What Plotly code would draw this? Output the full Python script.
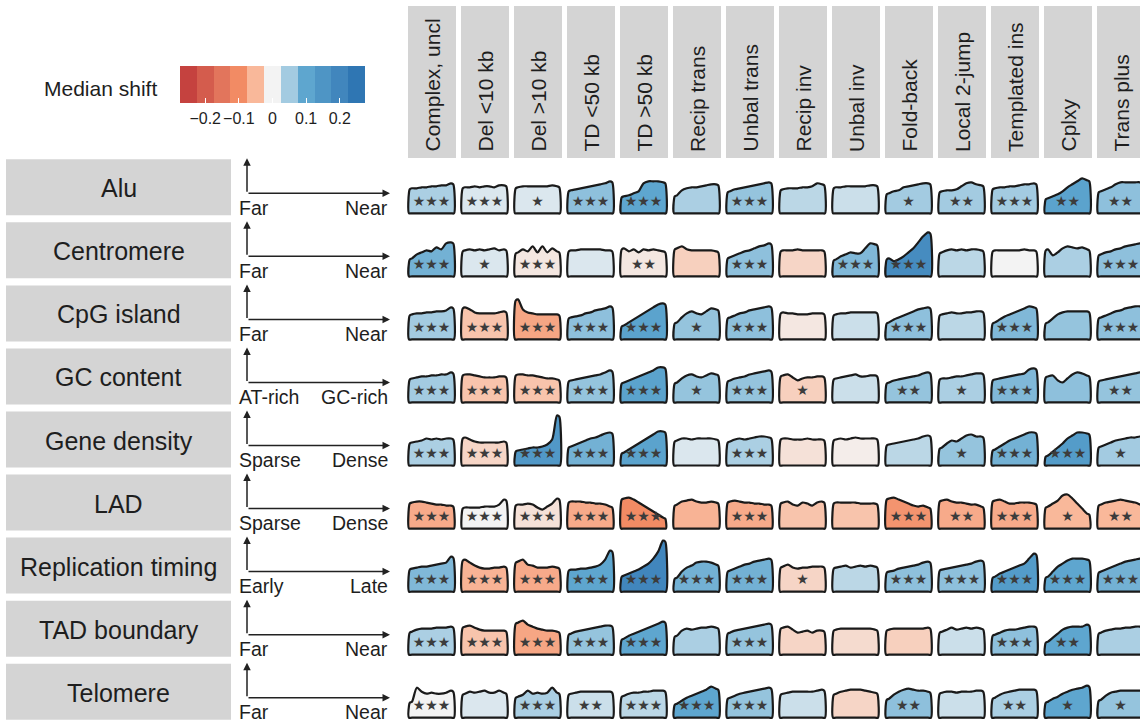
import plotly.graph_objects as go
from plotly.colors import sample_colorscale

# ---------------- data ----------------
features = ["Alu", "Centromere", "CpG island", "GC content", "Gene density",
            "LAD", "Replication timing", "TAD boundary", "Telomere"]
axis_low = ["Far", "Far", "Far", "AT-rich", "Sparse", "Sparse", "Early", "Far", "Far"]
axis_high = ["Near", "Near", "Near", "GC-rich", "Dense", "Dense", "Late", "Near", "Near"]
sv_types = ["Complex, uncl", "Del <10 kb", "Del >10 kb", "TD <50 kb", "TD >50 kb",
            "Recip trans", "Unbal trans", "Recip inv", "Unbal inv", "Fold-back",
            "Local 2-jump", "Templated ins", "Cplxy", "Trans plus"]

legend_values = [-0.25, -0.2, -0.15, -0.1, -0.05, 0.0, 0.05, 0.1, 0.15, 0.2, 0.25]
legend_colors = ["#c5423f", "#d45c4d", "#e2755c", "#f28b64", "#f9b89a", "#f3f3f3",
                 "#a3cbe1", "#5ea6cf", "#4e95c5", "#4186bd", "#2f76b3"]
legend_tickvals = [-0.2, -0.1, 0.0, 0.1, 0.2]
legend_ticktext = ["\u22120.2", "\u22120.1", "0", "0.1", "0.2"]

# median shift per feature (columns follow sv_types)
shift_alu = [0.045, 0.015, 0.015, 0.065, 0.10, 0.045, 0.06, 0.035, 0.025, 0.05, 0.05, 0.05, 0.11, 0.065]
shift_centromere = [0.085, 0.015, -0.01, 0.015, -0.01, -0.03, 0.065, -0.025, 0.075, 0.18, 0.035, 0.0, 0.045, 0.065]
shift_cpg = [0.05, -0.04, -0.07, 0.065, 0.11, 0.06, 0.065, -0.01, 0.025, 0.065, 0.035, 0.075, 0.06, 0.065]
shift_gc = [0.05, -0.04, -0.04, 0.06, 0.11, 0.06, 0.06, -0.03, 0.025, 0.06, 0.045, 0.075, 0.065, 0.06]
shift_gene = [0.045, -0.025, 0.14, 0.085, 0.11, 0.015, 0.045, -0.015, -0.005, 0.035, 0.06, 0.085, 0.13, 0.05]
shift_lad = [-0.065, 0.0, -0.015, -0.065, -0.1, -0.055, -0.065, -0.04, -0.04, -0.09, -0.065, -0.065, -0.05, -0.05]
shift_rep = [0.075, -0.055, -0.065, 0.10, 0.20, 0.085, 0.085, -0.025, 0.035, 0.065, 0.065, 0.13, 0.10, 0.085]
shift_tad = [0.045, -0.04, -0.07, 0.06, 0.10, 0.045, 0.06, -0.025, -0.02, -0.03, 0.025, 0.065, 0.10, 0.045]
shift_telo = [0.0, 0.015, 0.045, 0.025, 0.035, 0.10, 0.06, 0.025, -0.025, 0.065, 0.025, 0.045, 0.10, 0.06]
median_shift = [shift_alu, shift_centromere, shift_cpg, shift_gc, shift_gene,
                shift_lad, shift_rep, shift_tad, shift_telo]

# significance (number of stars)
stars_alu = [3, 3, 1, 3, 3, 0, 3, 0, 0, 1, 2, 3, 2, 2]
stars_centromere = [3, 1, 3, 0, 2, 0, 3, 0, 3, 3, 0, 0, 0, 3]
stars_cpg = [3, 3, 3, 3, 3, 1, 3, 0, 0, 3, 0, 3, 0, 3]
stars_gc = [3, 3, 3, 3, 3, 1, 3, 1, 0, 2, 1, 3, 0, 2]
stars_gene = [3, 3, 3, 3, 3, 0, 3, 0, 0, 0, 1, 3, 3, 1]
stars_lad = [3, 3, 3, 3, 3, 0, 3, 0, 0, 3, 2, 3, 1, 2]
stars_rep = [3, 3, 3, 3, 3, 3, 3, 1, 0, 3, 3, 3, 3, 3]
stars_tad = [3, 3, 3, 3, 3, 0, 3, 0, 0, 0, 0, 3, 2, 0]
stars_telo = [3, 0, 3, 2, 3, 3, 3, 0, 0, 2, 0, 2, 1, 1]
stars = [stars_alu, stars_centromere, stars_cpg, stars_gc, stars_gene,
         stars_lad, stars_rep, stars_tad, stars_telo]

# density profiles (9 samples from far/low to near/high), per SV type
density_alu = [
    [25, 25, 26, 26, 27, 27, 28, 28, 30], [26, 26, 27, 26, 27, 27, 26, 28, 28],
    [26, 27, 27, 27, 27, 27, 27, 28, 27], [23, 24, 25, 26, 27, 28, 29, 30, 32],
    [17, 18, 20, 22, 30, 32, 32, 32, 31], [18, 23, 25, 26, 26, 27, 28, 29, 29],
    [22, 24, 25, 26, 27, 28, 29, 30, 31], [24, 25, 25, 25, 26, 26, 27, 30, 29],
    [26, 26, 27, 27, 27, 27, 27, 28, 28], [20, 22, 23, 26, 27, 28, 29, 30, 30],
    [22, 23, 23, 24, 27, 30, 31, 29, 28], [25, 26, 26, 27, 27, 28, 29, 29, 30],
    [15, 17, 19, 22, 26, 29, 32, 35, 33], [22, 24, 26, 29, 31, 31, 31, 31, 31]]
density_centromere = [
    [18, 22, 24, 26, 25, 29, 27, 33, 34], [26, 27, 26, 27, 26, 27, 28, 26, 27],
    [24, 27, 25, 30, 24, 30, 24, 28, 25], [26, 26, 27, 27, 27, 27, 27, 26, 26],
    [28, 25, 27, 24, 27, 26, 27, 26, 25], [28, 30, 27, 26, 26, 26, 26, 26, 25],
    [19, 21, 23, 25, 26, 28, 30, 31, 33], [26, 26, 26, 27, 26, 26, 26, 26, 26],
    [17, 20, 22, 24, 23, 23, 28, 33, 32], [18, 15, 17, 20, 24, 28, 34, 40, 44],
    [24, 26, 27, 26, 27, 26, 27, 27, 26], [26, 26, 26, 26, 26, 26, 27, 26, 26],
    [27, 21, 24, 28, 30, 29, 28, 29, 27], [22, 24, 25, 27, 28, 30, 31, 32, 33]]
density_cpg = [
    [25, 26, 26, 27, 27, 28, 28, 29, 32], [32, 30, 27, 26, 26, 26, 26, 27, 28],
    [40, 30, 27, 26, 25, 25, 25, 25, 25], [22, 23, 24, 26, 27, 29, 30, 31, 33],
    [14, 17, 20, 23, 26, 29, 32, 35, 36], [17, 22, 26, 28, 26, 25, 28, 31, 30],
    [22, 24, 26, 27, 29, 30, 31, 32, 33], [27, 26, 26, 25, 25, 25, 26, 26, 26],
    [25, 26, 26, 27, 27, 27, 27, 27, 27], [17, 20, 22, 24, 26, 28, 30, 31, 32],
    [25, 26, 27, 26, 26, 27, 27, 28, 28], [17, 20, 23, 25, 27, 29, 31, 33, 32],
    [17, 21, 25, 27, 28, 28, 28, 28, 28], [22, 24, 26, 28, 29, 31, 32, 33, 33]]
density_gc = [
    [24, 25, 26, 26, 27, 27, 28, 28, 30], [28, 28, 27, 26, 25, 25, 25, 26, 26],
    [28, 28, 27, 27, 26, 25, 24, 24, 23], [22, 23, 24, 25, 26, 27, 28, 30, 32],
    [20, 22, 24, 26, 28, 30, 32, 35, 35], [20, 24, 27, 28, 26, 25, 27, 29, 28],
    [22, 24, 25, 26, 28, 29, 30, 31, 32], [27, 28, 25, 22, 24, 25, 25, 26, 26],
    [24, 25, 26, 27, 28, 26, 26, 27, 27], [20, 22, 23, 24, 25, 26, 27, 29, 30],
    [24, 24, 25, 26, 26, 27, 28, 29, 29], [23, 24, 25, 26, 27, 28, 29, 33, 34],
    [26, 27, 22, 20, 24, 28, 30, 29, 27], [22, 23, 24, 25, 26, 27, 28, 29, 30]]
density_gene = [
    [23, 24, 25, 27, 26, 27, 26, 27, 27], [28, 26, 24, 23, 23, 23, 23, 23, 24],
    [15, 16, 17, 18, 18, 19, 21, 26, 50], [19, 21, 23, 25, 27, 28, 30, 32, 33],
    [13, 16, 19, 22, 25, 28, 31, 34, 34], [25, 27, 27, 26, 27, 27, 27, 27, 26],
    [24, 26, 27, 26, 27, 28, 29, 29, 28], [27, 27, 26, 26, 26, 27, 26, 26, 26],
    [26, 27, 26, 27, 28, 27, 27, 27, 27], [21, 22, 23, 24, 25, 26, 27, 29, 30],
    [18, 22, 25, 24, 27, 30, 31, 29, 29], [16, 19, 22, 25, 27, 29, 31, 33, 33],
    [10, 14, 18, 22, 27, 30, 33, 33, 32], [19, 21, 23, 25, 26, 27, 28, 28, 29]]
density_lad = [
    [26, 27, 27, 26, 25, 24, 24, 23, 23], [21, 21, 21, 21, 22, 22, 22, 24, 29],
    [24, 24, 25, 24, 21, 19, 22, 25, 30], [27, 27, 27, 26, 26, 25, 25, 24, 22],
    [30, 31, 29, 26, 23, 20, 17, 14, 11], [24, 27, 28, 29, 27, 26, 26, 27, 26],
    [27, 28, 27, 26, 26, 25, 25, 24, 24], [26, 27, 24, 23, 26, 25, 23, 26, 27],
    [26, 26, 26, 26, 26, 25, 25, 25, 25], [30, 31, 29, 27, 25, 23, 22, 23, 21],
    [28, 29, 27, 26, 26, 25, 24, 24, 22], [28, 29, 27, 25, 25, 26, 26, 26, 25],
    [22, 25, 28, 33, 34, 30, 25, 20, 15], [24, 26, 27, 28, 29, 28, 27, 26, 24]]
density_rep = [
    [23, 24, 25, 25, 26, 27, 28, 29, 35], [32, 29, 26, 24, 23, 23, 24, 24, 25],
    [30, 32, 27, 26, 24, 24, 24, 25, 24], [22, 22, 23, 23, 24, 25, 27, 32, 41],
    [16, 18, 20, 22, 25, 28, 33, 40, 51], [14, 20, 24, 26, 29, 30, 30, 29, 27],
    [21, 23, 25, 27, 28, 30, 31, 32, 33], [25, 27, 24, 23, 24, 24, 25, 25, 25],
    [24, 25, 26, 24, 25, 26, 25, 26, 25], [20, 21, 23, 24, 25, 26, 27, 29, 30],
    [22, 23, 24, 25, 26, 27, 28, 30, 31], [15, 18, 20, 22, 24, 26, 28, 33, 38],
    [15, 20, 25, 28, 31, 33, 33, 33, 32], [20, 22, 24, 26, 28, 30, 31, 32, 33]]
density_tad = [
    [23, 25, 26, 26, 26, 27, 27, 27, 28], [28, 29, 27, 25, 24, 24, 24, 24, 24],
    [32, 34, 30, 28, 26, 25, 24, 24, 23], [21, 23, 24, 25, 26, 27, 28, 29, 29],
    [16, 19, 21, 23, 25, 27, 29, 31, 33], [19, 24, 26, 25, 26, 27, 27, 28, 27],
    [22, 24, 25, 26, 27, 28, 29, 30, 31], [27, 28, 25, 22, 23, 24, 22, 24, 24],
    [25, 26, 26, 26, 26, 26, 26, 26, 25], [25, 26, 26, 26, 26, 26, 26, 26, 27],
    [23, 25, 27, 25, 26, 27, 26, 27, 26], [20, 22, 24, 25, 25, 26, 27, 28, 28],
    [13, 17, 21, 25, 27, 28, 28, 28, 30], [22, 24, 25, 26, 26, 27, 27, 28, 28]]
density_telo = [
    [16, 30, 26, 24, 25, 24, 24, 25, 27], [24, 26, 25, 26, 27, 25, 25, 27, 25],
    [21, 23, 27, 24, 25, 24, 25, 30, 25], [24, 25, 26, 26, 26, 26, 26, 26, 26],
    [22, 24, 25, 25, 26, 26, 27, 27, 27], [14, 17, 20, 22, 24, 26, 28, 31, 29],
    [20, 22, 24, 25, 26, 27, 28, 29, 30], [24, 25, 26, 26, 26, 26, 26, 27, 28],
    [24, 26, 27, 28, 28, 28, 27, 26, 25], [19, 23, 26, 28, 29, 28, 27, 27, 26],
    [25, 26, 26, 25, 26, 26, 26, 27, 27], [20, 23, 25, 26, 27, 28, 28, 28, 28],
    [16, 19, 21, 24, 26, 28, 29, 30, 32], [18, 22, 25, 26, 27, 27, 27, 27, 27]]
densities = [density_alu, density_centromere, density_cpg, density_gc, density_gene,
             density_lad, density_rep, density_tad, density_telo]

# ---------------- layout constants ----------------
FIG_W, FIG_H = 1140, 721
COL_X0, COL_PITCH, COL_BOX_W = 408, 53, 48
ROW_BASE0, ROW_PITCH = 213.3, 63.05
CELL_PAD, CELL_W = 1, 45
DENS_PX = 1.0
FONT = "Liberation Sans, Arial, Helvetica, sans-serif"
TXT = "#1e1e1e"
GREY = "#d4d4d4"

cell_scale = [[(v + 0.25) / 0.5, c] for v, c in zip(legend_values, legend_colors)]

fig = go.Figure()
shapes, annotations = [], []

# column header boxes
for c, name in enumerate(sv_types):
    left = COL_X0 + COL_PITCH * c
    shapes.append(dict(type="rect", xref="x", yref="y", x0=left, x1=left + COL_BOX_W,
                       y0=6, y1=158, fillcolor=GREY, line_width=0, layer="below"))
    annotations.append(dict(x=left + COL_BOX_W / 2, y=154, xref="x", yref="y", text=name,
                            textangle=-90, xanchor="center", yanchor="bottom", showarrow=False,
                            font=dict(family=FONT, size=21, color=TXT)))

star_x, star_y, star_t = [], [], []
for r, feat in enumerate(features):
    base = ROW_BASE0 + ROW_PITCH * r
    # row label box
    shapes.append(dict(type="rect", xref="x", yref="y", x0=6, x1=231, y0=base - 54, y1=base + 2,
                       fillcolor=GREY, line_width=0, layer="below"))
    annotations.append(dict(x=118.5, y=base - 25, xref="x", yref="y", text=feat, showarrow=False,
                            xanchor="center", yanchor="middle",
                            font=dict(family=FONT, size=25, color=TXT)))
    # axis diagram
    annotations.append(dict(x=247, y=base - 55, ax=247, ay=base - 20, xref="x", yref="y",
                            axref="x", ayref="y", text="", showarrow=True, arrowhead=2,
                            arrowsize=1, arrowwidth=1.5, arrowcolor="#222"))
    annotations.append(dict(x=390, y=base - 20, ax=247, ay=base - 20, xref="x", yref="y",
                            axref="x", ayref="y", text="", showarrow=True, arrowhead=2,
                            arrowsize=1, arrowwidth=1.5, arrowcolor="#222"))
    annotations.append(dict(x=237, y=base - 5.5, xref="x", yref="y", text=axis_low[r],
                            showarrow=False, xanchor="left", yanchor="middle",
                            font=dict(family=FONT, size=19.5, color=TXT)))
    annotations.append(dict(x=390, y=base - 5.5, xref="x", yref="y", text=axis_high[r],
                            showarrow=False, xanchor="right", yanchor="middle",
                            font=dict(family=FONT, size=19.5, color=TXT)))
    # cells
    for c in range(len(sv_types)):
        x0 = COL_X0 + COL_PITCH * c + CELL_PAD
        x1 = x0 + CELL_W
        prof = densities[r][c]
        n = len(prof)
        h = [v * DENS_PX for v in prof]
        px = [x0 + 3 + (CELL_W - 6) * k / (n - 1) for k in range(n)]
        xs = [x0 + 3, x0, x0, x0 + 0.8] + px + [x1 - 0.8, x1, x1, x1 - 3, x0 + 3]
        ys = ([base, base, base - h[0] + 4, base - h[0] + 1] + [base - v for v in h]
              + [base - h[-1] + 1, base - h[-1] + 4, base, base, base])
        col = sample_colorscale(cell_scale, [min(max((median_shift[r][c] + 0.25) / 0.5, 0), 1)])[0]
        fig.add_trace(go.Scatter(x=xs, y=ys, mode="lines", fill="toself", fillcolor=col,
                                 line=dict(color="#1a1a1a", width=2.2, shape="spline", smoothing=0.8),
                                 hoverinfo="skip", showlegend=False))
        if stars[r][c] > 0:
            star_x.append((x0 + x1) / 2)
            star_y.append(base - 11)
            star_t.append("\u2605" * stars[r][c])

fig.add_trace(go.Scatter(x=star_x, y=star_y, text=star_t, mode="text",
                         textfont=dict(family="DejaVu Sans", size=14, color="#3c3c3c"),
                         hoverinfo="skip", showlegend=False))

# legend colour bar
disc = []
nb = len(legend_colors)
for i, colr in enumerate(legend_colors):
    disc.append([i / nb, colr])
    disc.append([(i + 1) / nb, colr])
fig.add_trace(go.Heatmap(x=legend_values, y=[0], z=[list(range(nb))], colorscale=disc,
                         zmin=-0.5, zmax=nb - 0.5, showscale=False, hoverinfo="skip",
                         xaxis="x2", yaxis="y2"))
annotations.append(dict(x=159, y=88, xref="x", yref="y", text="Median shift", showarrow=False,
                        xanchor="right", yanchor="middle",
                        font=dict(family=FONT, size=21, color=TXT)))

fig.update_layout(
    width=FIG_W, height=FIG_H, margin=dict(l=0, r=0, t=0, b=0),
    paper_bgcolor="white", plot_bgcolor="rgba(0,0,0,0)",
    xaxis=dict(range=[0, FIG_W], visible=False, domain=[0, 1], fixedrange=True),
    yaxis=dict(range=[FIG_H, 0], visible=False, domain=[0, 1], fixedrange=True),
    xaxis2=dict(domain=[180 / FIG_W, 365 / FIG_W], anchor="y2", range=[-0.275, 0.275],
                tickvals=legend_tickvals, ticktext=legend_ticktext, ticks="inside",
                tickcolor="white", ticklen=5, tickwidth=1, showgrid=False, zeroline=False,
                showline=False, ticklabelstandoff=4, tickangle=0,
                tickfont=dict(family=FONT, size=16, color=TXT)),
    yaxis2=dict(domain=[1 - 103 / FIG_H, 1 - 66 / FIG_H], anchor="x2", range=[-0.5, 0.5],
                visible=False),
    shapes=shapes, annotations=annotations, showlegend=False,
)

fig.write_html("out.html")
